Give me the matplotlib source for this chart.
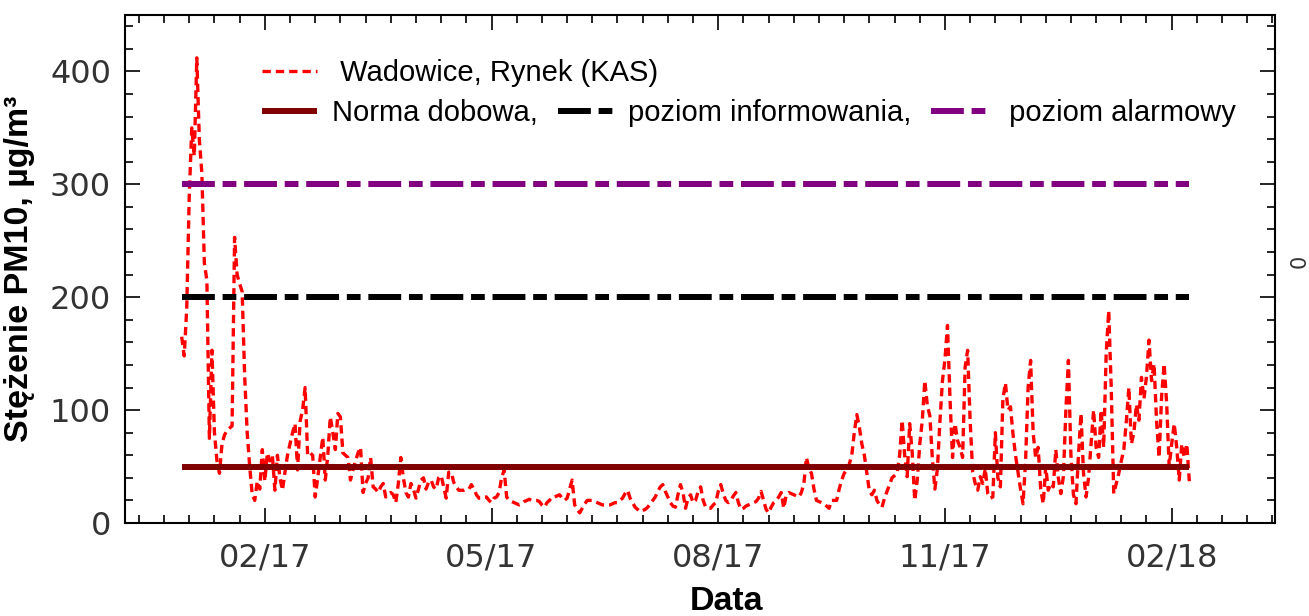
import numpy as np
import matplotlib
matplotlib.use("Agg")
from matplotlib import pyplot as plt
from matplotlib.ticker import FixedLocator, MultipleLocator

# daily PM10, Wadowice Rynek, starting 2017-01-01
pm10 = [
    165, 148, 190, 290, 350, 325, 412, 340, 310, 230,
    215, 75, 153, 80, 55, 44, 70, 78, 82, 84,
    86, 253, 220, 212, 205, 130, 80, 50, 25, 20,
    37, 30, 65, 37, 62, 55, 60, 29, 60, 40,
    29, 45, 60, 70, 80, 88, 47, 90, 100, 120,
    60, 62, 60, 23, 40, 58, 76, 38, 60, 94,
    80, 65, 97, 94, 62, 60, 58, 38, 47, 55,
    62, 67, 27, 35, 40, 58, 32, 30, 27, 32,
    35, 23, 25, 27, 25, 18, 35, 58, 40, 27,
    23, 35, 30, 22, 30, 38, 40, 30, 36, 38,
    32, 30, 40, 42, 32, 22, 45, 45, 36, 32,
    29, 29, 29, 30, 30, 34, 30, 25, 22, 22,
    23, 23, 20, 18, 22, 23, 27, 40, 47, 23,
    20, 19, 18, 17, 16, 17, 19, 20, 21, 20,
    20, 20, 19, 16, 14, 18, 20, 23, 23, 24,
    25, 22, 20, 22, 30, 38, 16, 12, 9, 13,
    17, 20, 20, 20, 19, 18, 17, 16, 16, 16,
    16, 17, 18, 18, 20, 22, 26, 29, 22, 18,
    14, 12, 10, 11, 12, 14, 17, 20, 23, 28,
    32, 34, 28, 23, 18, 15, 14, 25, 34, 27,
    13, 22, 25, 18, 20, 28, 32, 20, 14, 13,
    13, 16, 18, 28, 34, 26, 20, 18, 20, 24,
    27, 18, 12, 13, 15, 16, 17, 18, 19, 22,
    28, 20, 12, 9, 14, 18, 20, 23, 27, 13,
    25, 27, 26, 25, 24, 23, 27, 35, 58, 48,
    44, 30, 20, 19, 18, 17, 15, 13, 20, 20,
    20, 30, 38, 44, 47, 52, 60, 80, 96, 85,
    70, 60, 44, 28, 25, 29, 20, 16, 14, 22,
    28, 34, 40, 42, 44, 60, 91, 60, 41, 88,
    62, 20, 38, 70, 91, 126, 104, 95, 57, 30,
    48, 90, 126, 145, 175, 110, 58, 88, 73, 67,
    58, 138, 153, 90, 45, 35, 29, 41, 35, 48,
    26, 22, 23, 80, 40, 32, 110, 124, 100, 103,
    79, 60, 45, 30, 17, 55, 120, 144, 80, 58,
    67, 30, 17, 50, 29, 35, 32, 65, 40, 26,
    41, 100, 144, 60, 25, 17, 60, 97, 44, 23,
    40, 70, 100, 67, 58, 100, 67, 150, 188, 120,
    26, 35, 44, 55, 65, 90, 120, 70, 80, 105,
    91, 129, 110, 130, 162, 126, 141, 90, 58, 112,
    141, 106, 50, 70, 88, 67, 38, 70, 58, 70,
    37,
]
days = np.arange(len(pm10))

norma = 50
informowanie = 200
alarm = 300

tick_days = [33, 123, 213, 303, 393]
tick_labels = ["02/17", "05/17", "08/17", "11/17", "02/18"]

fig = plt.figure(figsize=(13.09, 6.16), dpi=100)
ax = fig.add_axes([0.0955, 0.151, 0.8785, 0.8247])

ln_data, = ax.plot(days, pm10, color="red", lw=2.4, ls=(0, (2.5, 1.5)),
                   label=" Wadowice, Rynek (KAS)")
ln_n = ax.hlines(norma, days[0], days[-1], color="#800000", lw=4.3,
                 label="Norma dobowa,")
ln_i = ax.hlines(informowanie, days[0], days[-1], color="black", lw=4.3,
                 linestyles=[(0, (5.5, 1.3, 2.3, 1.3))], label="poziom informowania,")
ln_a = ax.hlines(alarm, days[0], days[-1], color="#800080", lw=4.3,
                 linestyles=[(0, (5.5, 1.3, 2.3, 1.3))], label=" poziom alarmowy")

ax.set_xlim(-22.5, 434)
ax.set_ylim(0, 450)

ax.xaxis.set_major_locator(FixedLocator(tick_days))
ax.xaxis.set_minor_locator(FixedLocator(np.arange(-17, 434, 10)))
ax.set_xticklabels(tick_labels)
ax.yaxis.set_major_locator(MultipleLocator(100))
ax.yaxis.set_minor_locator(MultipleLocator(20))

ax.tick_params(which="both", direction="in", top=True, right=True, width=1.2, colors="black")
ax.tick_params(which="major", length=11)
ax.tick_params(which="minor", length=6)
ax.tick_params(axis="x", which="major", labelsize=23, labelcolor="#333333", pad=14)
ax.tick_params(axis="y", which="major", labelsize=23, labelcolor="#333333", pad=10)
for s in ax.spines.values():
    s.set_linewidth(1.5)

ax.set_ylabel("Stężenie PM10, µg/m³", family="Liberation Sans", fontweight="bold", fontsize=24.5)
ax.set_xlabel("Data", family="Liberation Sans", fontweight="bold", fontsize=24.5)
ax.xaxis.set_label_coords(0.523, -0.125)
ax.yaxis.set_label_coords(-0.078, 0.5)

leg_font = {"family": "Liberation Sans", "size": 21}
leg1 = ax.legend(handles=[ln_data], loc="center left", bbox_to_anchor=(0.119, 0.886),
                 frameon=False, prop=leg_font, handlelength=1.9, handletextpad=0.5,
                 borderpad=0, borderaxespad=0)
ax.add_artist(leg1)
ax.legend(handles=[ln_n, ln_i, ln_a], loc="center left", bbox_to_anchor=(0.119, 0.807),
          frameon=False, prop=leg_font, ncol=3, handlelength=1.9, handletextpad=0.5,
          columnspacing=0.68, borderpad=0, borderaxespad=0)

fig.text(0.9925, 0.575, "0", rotation=90, color="#333333", fontsize=15, ha="center", va="center")

fig.savefig("out.png", dpi=100)
